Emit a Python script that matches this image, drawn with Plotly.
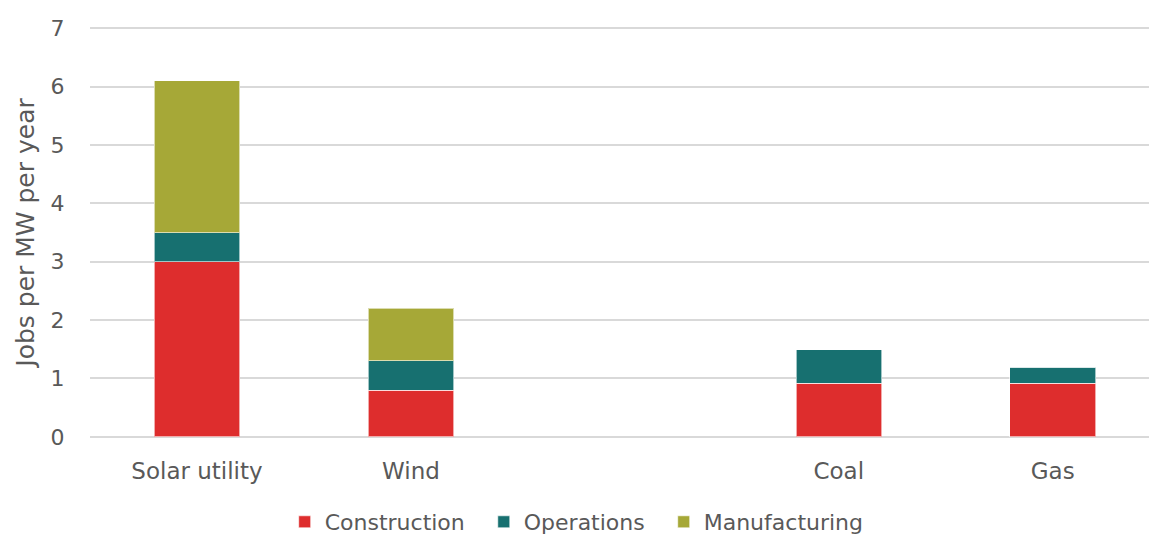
import plotly.graph_objects as go

categories = ["Solar utility", "Wind", "", "Coal", "Gas"]
construction = [3.0, 0.8, None, 0.92, 0.92]
operations = [0.5, 0.5, None, 0.57, 0.27]
manufacturing = [2.6, 0.9, None, 0, 0]
y_ticks = [0, 1, 2, 3, 4, 5, 6, 7]
legend_names = ["Construction", "Operations", "Manufacturing"]
colors = ["#DE2D2D", "#177070", "#A6A837"]

series = list(zip(legend_names, [construction, operations, manufacturing], colors))

xpos = list(range(len(categories)))
fig = go.Figure()
for name, vals, color in series:
    fig.add_trace(go.Bar(
        x=xpos, y=vals, name=name + "\u00a0\u00a0",
        marker=dict(color=color, line=dict(color="rgba(255,255,255,0.6)", width=1)),
        width=0.4,
    ))

font_fam = "'DejaVu Sans', sans-serif"
txt = "#595959"
fig.update_layout(
    barmode="stack",
    width=1149, height=534,
    margin=dict(l=90, r=0, t=27, b=96),
    paper_bgcolor="white", plot_bgcolor="white",
    font=dict(family=font_fam, size=22, color=txt),
    xaxis=dict(
        range=[-0.5, 4.45], automargin=False,
        tickmode="array", tickvals=xpos, ticktext=categories,
        showgrid=False, zeroline=False, showline=False,
        ticks="outside", ticklen=12, tickcolor="rgba(0,0,0,0)",
        tickfont=dict(size=23, color=txt),
    ),
    yaxis=dict(
        range=[-0.02, 7.02], automargin=False,
        tickmode="array", tickvals=y_ticks,
        showgrid=True, gridcolor="#D9D9D9", gridwidth=2,
        zeroline=False, showline=False,
        ticks="outside", ticklen=20, tickcolor="rgba(0,0,0,0)",
        tickfont=dict(size=22, color=txt),
        title=dict(text="Jobs per MW per year", font=dict(size=25, color=txt), standoff=8),
    ),
    legend=dict(
        orientation="h", xref="container", yref="container",
        x=0.508, xanchor="center", y=0.0225, yanchor="middle",
        font=dict(size=22, color=txt), traceorder="normal",
        itemwidth=30,
    ),
    bargap=0.6,
)

fig.write_html("out.html", config={"displayModeBar": False},
               post_script="document.body.style.margin='0';")
